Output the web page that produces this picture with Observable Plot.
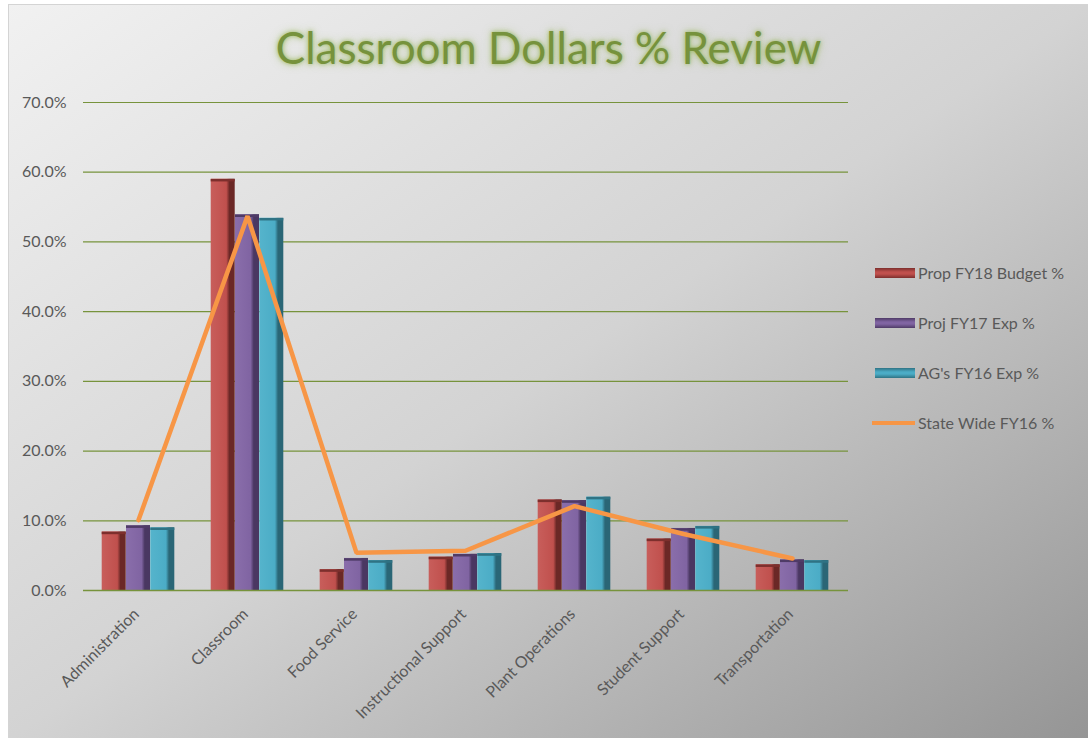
<!DOCTYPE html>
<html><head><meta charset="utf-8">
<script src="https://cdn.jsdelivr.net/npm/d3@7"></script>
<script src="https://cdn.jsdelivr.net/npm/@observablehq/plot@0.6"></script>
<style>
html,body{margin:0;padding:0;background:#fff;width:1088px;height:738px;overflow:hidden;}
#frame{position:absolute;left:8px;top:4px;width:1080px;height:734px;border-left:1px solid #d4d4d4;border-top:1px solid #d4d4d4;background:linear-gradient(to bottom right,#f1f1f1 0%,#d3d3d3 50%,#959595 100%);}
#chart{position:absolute;left:0;top:0;}
#title{position:absolute;left:0;width:1097px;top:25px;text-align:center;font-family:Lato,sans-serif;font-size:44px;line-height:1;color:#76923c;text-shadow:0 0 4px rgba(140,175,70,0.8),0 0 9px rgba(150,185,80,0.5);}
#legend{position:absolute;left:875px;top:0;font-family:Lato,sans-serif;font-size:16px;color:#595959;}
.item{position:absolute;left:0;white-space:nowrap;height:20px;}
.sw{position:absolute;left:0;top:5px;width:40px;height:10px;}
.lbl{position:absolute;left:43px;top:0;line-height:20px;}
</style></head>
<body>
<div id="frame"></div>
<div id="chart"></div>
<div id="title">Classroom Dollars % Review</div>
<div id="legend"></div>
<script>
const categories = ["Administration","Classroom","Food Service","Instructional Support","Plant Operations","Student Support","Transportation"];
const seriesNames = ["Prop FY18 Budget %","Proj FY17 Exp %","AG's FY16 Exp %","State Wide FY16 %"];
const prop18 = [8.4, 59.0, 3.0, 4.8, 13.0, 7.4, 3.7];
const proj17 = [9.3, 53.9, 4.6, 5.2, 12.9, 8.9, 4.4];
const ag16   = [9.0, 53.4, 4.3, 5.3, 13.4, 9.2, 4.3];
const state16 = [10.1, 53.7, 5.4, 5.7, 12.1, 8.1, 4.6];
const yTicks = [0,10,20,30,40,50,60,70];

const palette = [
  {id:"gRed", base:"#c0504d", light:"#c85e5b", dark:"#6b2826", top:"#7d2f2d"},
  {id:"gPur", base:"#8064a2", light:"#8a6eab", dark:"#4a3762", top:"#4f3b67"},
  {id:"gTeal", base:"#4bacc6", light:"#55b4cc", dark:"#2a6676", top:"#2f7384"}
];
const barSeries = [prop18, proj17, ag16];
const rows = barSeries.map(vals => categories.map((c,i)=>({cat:c, v:vals[i]})));
const lineRows = categories.map((c,i)=>({cat:c, v:state16[i]}));

const W = 1088, H = 738;
const mL = 83, mR = W-848, mT = 102, mB = H-590;
const step = (W-mL-mR)/categories.length;
const barW = 24.3;
const pad = 1 - barW/step;

const defs = () => {
  const ns = "http://www.w3.org/2000/svg";
  const d = document.createElementNS(ns,"defs");
  palette.forEach(p=>{
    const g = document.createElementNS(ns,"linearGradient");
    g.setAttribute("id",p.id); g.setAttribute("x1","0"); g.setAttribute("x2","1"); g.setAttribute("y1","0"); g.setAttribute("y2","0");
    [[0,p.light],[0.65,p.base],[0.78,p.dark],[1,p.dark]].forEach(([o,c])=>{
      const s=document.createElementNS(ns,"stop"); s.setAttribute("offset",o); s.setAttribute("stop-color",c); g.appendChild(s);
    });
    d.appendChild(g);
  });
  return d;
};

const marks = [defs,
  Plot.ruleY(yTicks, {stroke:"#77933c", strokeWidth:1.2})
];
rows.forEach((r,k)=>{
  const dx = (k-1)*barW;
  marks.push(Plot.barY(r, {x:"cat", y:"v", dx, fill:`url(#${palette[k].id})`}));
  marks.push(Plot.tickY(r, {x:"cat", y:"v", dx, dy:1, stroke:palette[k].top, strokeWidth:2.5}));
});
marks.push(Plot.ruleY([0], {stroke:"#77933c", strokeWidth:1.5}));
marks.push(Plot.line(lineRows, {x:"cat", y:"v", stroke:"#f79646", strokeWidth:4.5, strokeLinejoin:"miter"}));
marks.push(Plot.axisY(yTicks, {tickSize:0, tickPadding:17, tickFormat:d=>d.toFixed(1)+"%", fontSize:16}));
marks.push(Plot.axisX({tickSize:0, tickPadding:10, tickRotate:-45, fontSize:16, dx:-2, dy:11}));

const chart = Plot.plot({
  width:W, height:H, marginLeft:mL, marginRight:mR, marginTop:mT, marginBottom:mB,
  style:{background:"transparent", color:"#595959", fontFamily:"Lato, sans-serif"},
  x:{type:"band", domain:categories, paddingInner:pad, paddingOuter:pad/2, label:null},
  y:{domain:[0,70], label:null},
  marks
});
document.getElementById("chart").appendChild(chart);

const legend = document.getElementById("legend");
const legendY = [273, 323, 373, 423];
seriesNames.forEach((name,k)=>{
  const it = document.createElement("div"); it.className="item"; it.style.top=(legendY[k]-10)+"px";
  const sw = document.createElement("div"); sw.className="sw";
  if (k<3) {
    const p = palette[k];
    sw.style.background = `linear-gradient(to bottom, ${p.top} 0%, ${p.base} 40%, ${p.base} 60%, ${p.top} 100%)`;
  } else {
    sw.style.top="8px"; sw.style.height="4px"; sw.style.left="-3px"; sw.style.width="43px"; sw.style.background="#f79646";
  }
  const lb = document.createElement("div"); lb.className="lbl"; lb.textContent=name;
  it.appendChild(sw); it.appendChild(lb); legend.appendChild(it);
});
</script>
</body></html>
